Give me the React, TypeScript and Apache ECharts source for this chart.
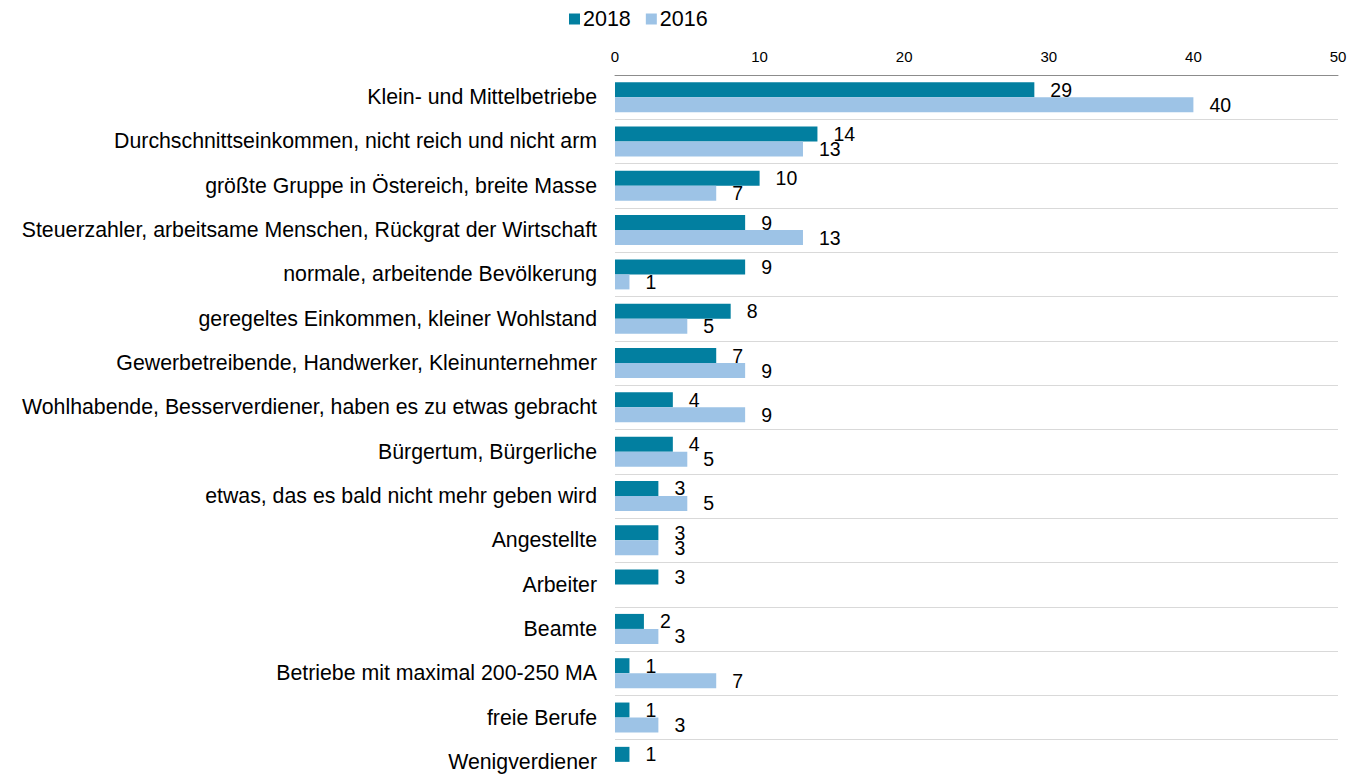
import React, { useEffect, useRef } from "react";
import * as echarts from "echarts";

const categories = [
  "Klein- und Mittelbetriebe",
  "Durchschnittseinkommen, nicht reich und nicht arm",
  "größte Gruppe in Östereich, breite Masse",
  "Steuerzahler, arbeitsame Menschen, Rückgrat der Wirtschaft",
  "normale, arbeitende Bevölkerung",
  "geregeltes Einkommen, kleiner Wohlstand",
  "Gewerbetreibende, Handwerker, Kleinunternehmer",
  "Wohlhabende, Besserverdiener, haben es zu etwas gebracht",
  "Bürgertum, Bürgerliche",
  "etwas, das es bald nicht mehr geben wird",
  "Angestellte",
  "Arbeiter",
  "Beamte",
  "Betriebe mit maximal 200-250 MA",
  "freie Berufe",
  "Wenigverdiener",
];
const values2018 = [29, 14, 10, 9, 9, 8, 7, 4, 4, 3, 3, 3, 2, 1, 1, 1];
const values2016: (number | null)[] = [40, 13, 7, 13, 1, 5, 9, 9, 5, 5, 3, null, 3, 7, 3, null];
const xTicks = { min: 0, max: 50, interval: 10 };

const FONT = "Liberation Sans, Arial, sans-serif";

export default function App() {
  const ref = useRef<HTMLDivElement>(null);
  useEffect(() => {
    if (!ref.current) return;
    const chart = echarts.init(ref.current, undefined, { renderer: "svg" });
    const labelStyle = {
      show: true,
      position: "right" as const,
      distance: 16,
      fontSize: 19.5,
      fontFamily: FONT,
      color: "#000",
    };
    chart.setOption({
      animation: false,
      textStyle: { fontFamily: FONT },
      legend: {
        top: 8,
        left: 569,
        padding: 0,
        itemWidth: 11,
        itemHeight: 11,
        itemGap: 15,
        icon: "rect",
        textStyle: { fontSize: 21.5, fontFamily: FONT, color: "#000", padding: [0, 0, 0, -2] },
        data: ["2018", "2016"],
      },
      grid: { left: 615, right: 20, top: 75, height: 709 },
      xAxis: {
        type: "value",
        position: "top",
        min: xTicks.min,
        max: xTicks.max,
        interval: xTicks.interval,
        axisLine: { show: true, lineStyle: { color: "#8c8c8c", width: 1 } },
        axisTick: { show: false },
        splitLine: { show: false },
        axisLabel: { fontSize: 15, fontFamily: FONT, color: "#000", margin: 11 },
      },
      yAxis: {
        type: "category",
        inverse: true,
        data: categories,
        axisLine: { show: false },
        axisTick: { show: false },
        splitLine: { show: true, lineStyle: { color: "#d9d9d9", width: 1 } },
        axisLabel: { fontSize: 21.3, fontFamily: FONT, color: "#000", margin: 18 },
      },
      series: [
        {
          name: "2018",
          type: "bar",
          data: values2018,
          barWidth: 15,
          barGap: "0%",
          itemStyle: { color: "#027fa0" },
          label: labelStyle,
        },
        {
          name: "2016",
          type: "bar",
          data: values2016,
          barWidth: 15,
          barGap: "0%",
          itemStyle: { color: "#9dc3e6" },
          label: labelStyle,
        },
      ],
    });
    return () => chart.dispose();
  }, []);
  return (
    <div style={{ position: "fixed", left: 0, top: 0, width: 1358, height: 774, overflow: "hidden", background: "#fff" }}>
      <div ref={ref} style={{ width: 1358, height: 800 }} />
    </div>
  );
}
